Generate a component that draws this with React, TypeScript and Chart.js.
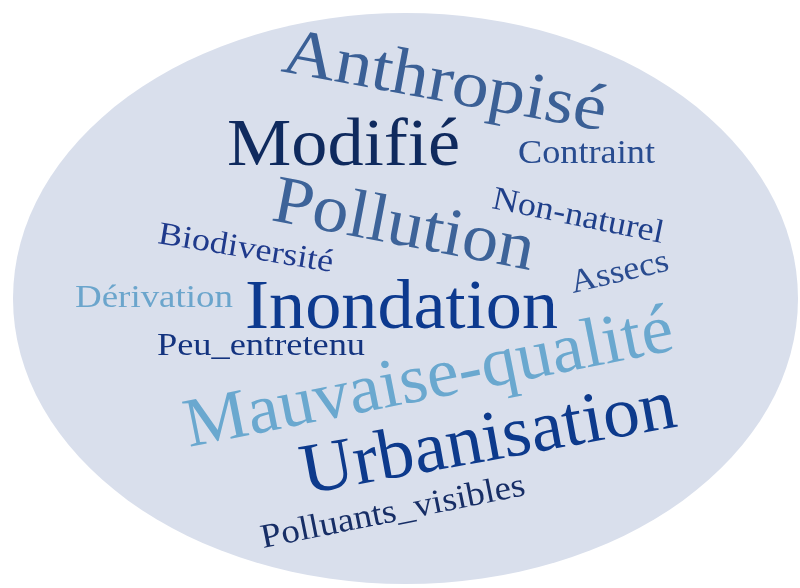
import React, { useEffect, useRef } from "react";
import { Chart, registerables } from "chart.js";

Chart.register(...registerables);

// Words of the cloud (data) and where they sit in the 800 x 588 data space
const WORDS = [
  "Anthropisé",
  "Modifié",
  "Contraint",
  "Pollution",
  "Non-naturel",
  "Biodiversité",
  "Assecs",
  "Dérivation",
  "Inondation",
  "Peu_entretenu",
  "Mauvaise-qualité",
  "Urbanisation",
  "Polluants_visibles",
];
const WORD_X = [280, 227, 518, 270, 491, 157, 573, 75, 245, 157, 189, 305, 263];
const WORD_Y = [71, 165, 163, 220, 208, 243, 293, 307, 328, 355, 447, 494, 548];

// Styling per word
const FONT_SIZE = [66, 68, 34, 68, 33, 32, 33, 32, 70, 32, 70, 72, 34];
const TEXT_WIDTH = [328, 233, 137, 265, 174, 177, 100, 158, 313, 208, 497, 380, 269];
const ANGLE_DEG = [10.5, 0, 0, 10.9, 11.6, 9.4, -13.3, 0, 0, 0, -11.3, -10.3, -11.4];
const COLORS = [
  "#3b6096",
  "#0f2a5e",
  "#284c90",
  "#3d6399",
  "#1f3f8a",
  "#1f3a8c",
  "#2a4c90",
  "#6ba5cc",
  "#0d3a8f",
  "#13337f",
  "#6aa8cf",
  "#0d3a8c",
  "#172e66",
];

// Background ellipse (data space)
const ELLIPSE_CX = 405.5;
const ELLIPSE_CY = 298.5;
const ELLIPSE_RX = 392.5;
const ELLIPSE_RY = 285.5;
const ELLIPSE_FILL = "#d9dfec";

const cloudPlugin = {
  id: "cloudPlugin",
  beforeDatasetsDraw(chart: any) {
    const { ctx, scales } = chart;
    const xs = scales.x;
    const ys = scales.y;
    const cx = xs.getPixelForValue(ELLIPSE_CX);
    const cy = ys.getPixelForValue(ELLIPSE_CY);
    const rx = Math.abs(xs.getPixelForValue(ELLIPSE_CX + ELLIPSE_RX) - cx);
    const ry = Math.abs(ys.getPixelForValue(ELLIPSE_CY + ELLIPSE_RY) - cy);
    ctx.save();
    ctx.fillStyle = ELLIPSE_FILL;
    ctx.beginPath();
    ctx.ellipse(cx, cy, rx, ry, 0, 0, Math.PI * 2);
    ctx.fill();
    ctx.restore();
  },
  afterDatasetsDraw(chart: any) {
    const { ctx } = chart;
    const meta = chart.getDatasetMeta(0);
    ctx.save();
    meta.data.forEach((pt: any, i: number) => {
      const word = WORDS[i];
      ctx.save();
      ctx.font = `${FONT_SIZE[i]}px "Liberation Serif", "Times New Roman", serif`;
      ctx.textAlign = "left";
      ctx.textBaseline = "alphabetic";
      ctx.fillStyle = COLORS[i];
      const w = ctx.measureText(word).width;
      ctx.translate(pt.x, pt.y);
      ctx.rotate((ANGLE_DEG[i] * Math.PI) / 180);
      ctx.scale(TEXT_WIDTH[i] / w, 1);
      ctx.fillText(word, 0, 0);
      ctx.restore();
    });
    ctx.restore();
  },
};

export default function App() {
  const canvasRef = useRef<HTMLCanvasElement | null>(null);

  useEffect(() => {
    if (!canvasRef.current) return;
    const chart = new Chart(canvasRef.current, {
      type: "scatter",
      data: {
        datasets: [
          {
            label: "words",
            data: WORDS.map((_, i) => ({ x: WORD_X[i], y: WORD_Y[i] })),
            pointRadius: 0,
            pointHoverRadius: 0,
          },
        ],
      },
      options: {
        animation: false,
        responsive: true,
        maintainAspectRatio: false,
        layout: { padding: 0 },
        events: [],
        plugins: {
          legend: { display: false },
          tooltip: { enabled: false },
        },
        scales: {
          x: { type: "linear", min: 0, max: 800, display: false },
          y: { type: "linear", min: 0, max: 588, reverse: true, display: false },
        },
      },
      plugins: [cloudPlugin],
    });
    return () => chart.destroy();
  }, []);

  return (
    <div
      style={{
        position: "absolute",
        left: 0,
        top: 0,
        width: 800,
        height: 588,
        background: "#ffffff",
      }}
    >
      <canvas ref={canvasRef} />
    </div>
  );
}
